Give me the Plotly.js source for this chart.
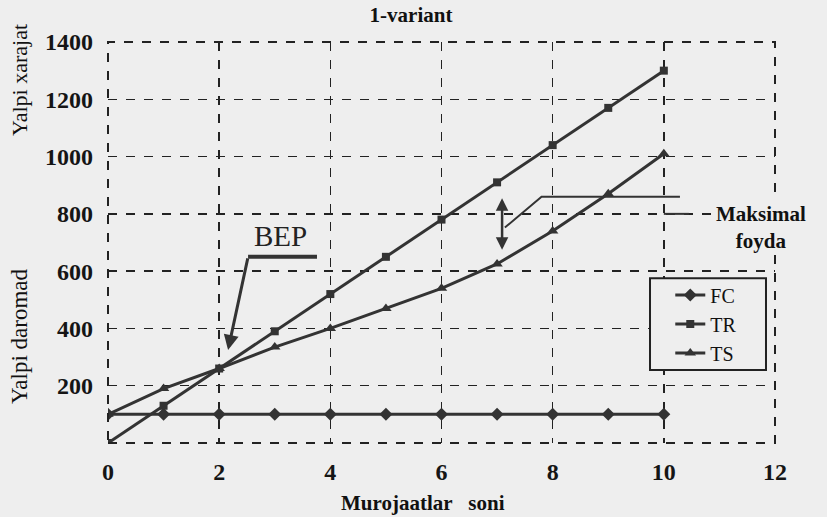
<!DOCTYPE html>
<html>
<head>
<meta charset="utf-8">
<script src="https://cdn.plot.ly/plotly-3.0.1.min.js"></script>
<style>html,body{margin:0;padding:0;background:#eeeeee;}#chart{width:827px;height:517px;}</style>
</head>
<body>
<div id="chart"></div>
<script>
// Data
const murojaatlar = [0, 1, 2, 3, 4, 5, 6, 7, 8, 9, 10];
const FC = [100, 100, 100, 100, 100, 100, 100, 100, 100, 100, 100];
const TR = [0, 130, 260, 390, 520, 650, 780, 910, 1040, 1170, 1300];
const TS = [100, 190, 260, 335, 400, 470, 540, 625, 740, 870, 1010];
const xTicks = [0, 2, 4, 6, 8, 10, 12];
const yTicks = [200, 400, 600, 800, 1000, 1200, 1400];
const seriesNames = ["FC", "TR", "TS"];

const bg = "#eeeeee";
const lineCol = "#333333";
const serif = "Liberation Serif, Times New Roman, serif";

const traces = [
  {x: murojaatlar, y: FC, name: seriesNames[0], mode: "lines+markers",
   line: {color: lineCol, width: 3}, marker: {symbol: "diamond", size: 10, color: lineCol}},
  {x: murojaatlar, y: TR, name: seriesNames[1], mode: "lines+markers",
   line: {color: lineCol, width: 3}, marker: {symbol: "square", size: 8, color: lineCol}},
  {x: murojaatlar, y: TS, name: seriesNames[2], mode: "lines+markers",
   line: {color: lineCol, width: 3}, marker: {symbol: "triangle-up", size: 10, color: lineCol}}
];

const layout = {
  width: 827, height: 517,
  paper_bgcolor: bg, plot_bgcolor: bg,
  margin: {l: 108, r: 52, t: 42, b: 74},
  showlegend: true,
  legend: {x: 0.843, y: 0.418, xanchor: "left", yanchor: "top",
    bgcolor: "rgba(0,0,0,0)", borderwidth: 0,
    font: {family: serif, size: 20, color: "#111"}, itemwidth: 30, tracegroupgap: 0},
  title: {text: "<b>1-variant</b>", x: 411/827, xref: "container", xanchor: "center",
    y: 1 - 15/517, yref: "container", yanchor: "middle",
    font: {family: serif, size: 21, color: "#111"}},
  xaxis: {range: [0, 12], tickvals: xTicks, ticktext: xTicks.map(String),
    showgrid: true, gridcolor: "#222", gridwidth: 1.5, griddash: "dash",
    zeroline: false, showline: false, ticks: "", ticklen: 0, ticklabelstandoff: 12,
    tickfont: {family: serif, size: 24, color: "#151515", weight: "bold"}},
  yaxis: {range: [0, 1400], tickvals: yTicks, ticktext: yTicks.map(String),
    showgrid: true, gridcolor: "#222", gridwidth: 1.5, griddash: "dash",
    zeroline: false, showline: false, ticks: "", ticklen: 0, ticklabelstandoff: 14,
    tickfont: {family: serif, size: 24, color: "#151515", weight: "bold"}},
  shapes: [
    // plot frame
    {type: "rect", xref: "paper", yref: "paper", x0: 0, y0: 0, x1: 1, y1: 1,
     line: {color: "#222", width: 2, dash: "dash"}},
    // legend box
    {type: "rect", xref: "paper", yref: "paper", x0: 0.8126, y0: 0.182, x1: 0.9865, y1: 0.411,
     fillcolor: bg, line: {color: "#222", width: 2}, layer: "above"},
    // BEP bar
    {type: "line", xref: "x", yref: "y", x0: 2.52, y0: 650, x1: 3.76, y1: 650,
     line: {color: "#333", width: 4}},
    // Maksimal foyda leader
    {type: "path", xref: "x", yref: "y", path: "M 7.14,752 L 7.8,860 L 10.29,860",
     line: {color: "#333", width: 2}},
    {type: "line", xref: "x", yref: "y", x0: 10, y0: 800, x1: 10.45, y1: 800,
     line: {color: "#333", width: 2}}
  ],
  annotations: [
    {text: "BEP", xref: "x", yref: "y", x: 3.1, y: 660, yanchor: "bottom", showarrow: false,
     font: {family: serif, size: 29, color: "#222"}},
    {xref: "x", yref: "y", x: 2.16, y: 325, axref: "x", ayref: "y", ax: 2.52, ay: 650,
     showarrow: true, arrowhead: 2, arrowsize: 1, arrowwidth: 3, arrowcolor: "#333", text: ""},
    {xref: "x", yref: "y", x: 7.09, y: 675, axref: "x", ayref: "y", ax: 7.09, ay: 860,
     showarrow: true, arrowhead: 2, startarrowhead: 2, arrowside: "end+start",
     arrowsize: 1, arrowwidth: 2.5, arrowcolor: "#333", text: ""},
    {text: "<b>Maksimal<br>foyda</b>", xref: "x", yref: "y", x: 11.75, y: 752, showarrow: false,
     align: "center", xanchor: "center", yanchor: "middle", bgcolor: bg,
     font: {family: serif, size: 21, color: "#111"}},
    {text: "Yalpi xarajat", xref: "paper", yref: "paper", x: (19 - 108) / 667, y: (443 - 80) / 401,
     textangle: -90, showarrow: false, xanchor: "center", yanchor: "middle",
     font: {family: serif, size: 22, color: "#111"}},
    {text: "Yalpi daromad", xref: "paper", yref: "paper", x: (19 - 108) / 667, y: (443 - 336) / 401,
     textangle: -90, showarrow: false, xanchor: "center", yanchor: "middle",
     font: {family: serif, size: 23, color: "#111"}},
    {text: "<b>Murojaatlar&nbsp;&nbsp; soni</b>", xref: "paper", yref: "paper", x: (423 - 108) / 667, y: (443 - 503) / 401,
     showarrow: false, xanchor: "center", yanchor: "middle",
     font: {family: serif, size: 21, color: "#111"}}
  ]
};

Plotly.newPlot("chart", traces, layout, {displayModeBar: false, staticPlot: true});
</script>
</body>
</html>
